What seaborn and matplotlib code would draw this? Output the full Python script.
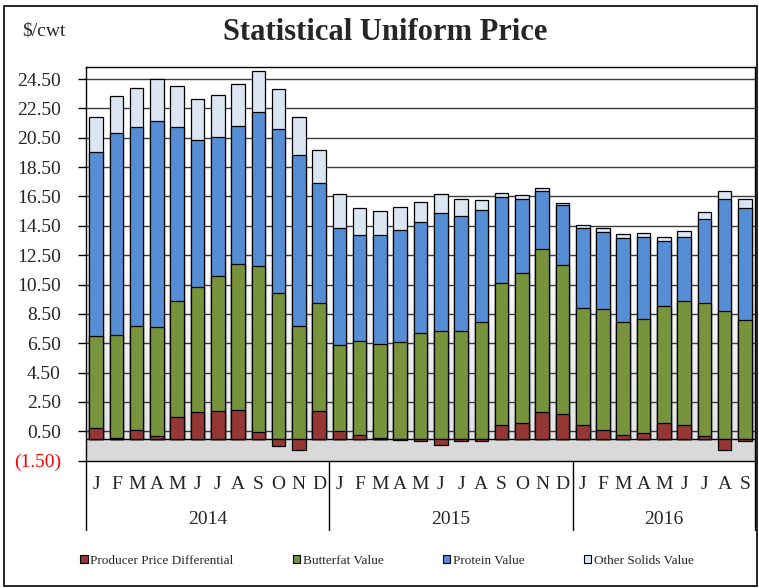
import matplotlib.pyplot as plt
import numpy as np
import pandas as pd
import seaborn as sns
from matplotlib.colors import LinearSegmentedColormap
from matplotlib.patches import Patch, Rectangle

# --- data ($/cwt), Jan 2014 .. Sep 2016 ---
years = ["2014", "2015", "2016"]
months_per_year = [12, 12, 9]
month_letters = ["J", "F", "M", "A", "M", "J", "J", "A", "S", "O", "N", "D"]

producer_price_diff = [
    0.75, 0.03, 0.61, 0.16, 1.45, 1.84, 1.86, 1.93, 0.47, -0.52, -0.75, 1.90,
    0.50, 0.27, 0.02, -0.11, -0.20, -0.45, -0.18, -0.20, 0.93, 1.09, 1.84, 1.66,
    0.89, 0.55, 0.23, 0.36, 1.05, 0.93, 0.20, -0.77, -0.14,
]
butterfat_value = [
    6.22, 7.00, 7.09, 7.41, 7.95, 8.52, 9.21, 9.96, 11.32, 9.95, 7.66, 7.32,
    5.86, 6.41, 6.39, 6.59, 7.18, 7.32, 7.36, 7.91, 9.64, 10.18, 11.11, 10.16,
    8.04, 8.31, 7.68, 7.82, 7.97, 8.43, 9.07, 8.66, 8.05,
]
protein_value = [
    12.53, 13.80, 13.55, 14.07, 11.83, 10.00, 9.52, 9.41, 10.46, 11.16, 11.68, 8.21,
    7.98, 7.18, 7.45, 7.64, 7.55, 8.04, 7.78, 7.66, 5.88, 5.09, 3.94, 4.09,
    5.41, 5.21, 5.75, 5.55, 4.46, 4.41, 5.71, 7.68, 7.68,
]
other_solids_value = [
    2.39, 2.50, 2.66, 2.84, 2.77, 2.82, 2.86, 2.84, 2.80, 2.69, 2.57, 2.27,
    2.30, 1.87, 1.66, 1.52, 1.41, 1.34, 1.16, 0.66, 0.28, 0.21, 0.22, 0.18,
    0.23, 0.27, 0.29, 0.27, 0.29, 0.39, 0.45, 0.52, 0.61,
]

series_names = ["Producer Price Differential", "Butterfat Value",
                "Protein Value", "Other Solids Value"]
series_colors = ["#953735", "#77933C", "#558ED5", "#DCE6F2"]

y_ticks = [-1.5] + [0.5 + 2 * i for i in range(13)]

periods, labels, year_of = [], [], []
for yr, n in zip(years, months_per_year):
    for m in range(n):
        periods.append(f"{yr}-{m + 1:02d}")
        labels.append(month_letters[m])
        year_of.append(yr)

df = pd.DataFrame({
    "period": periods,
    "ppd": producer_price_diff,
    "butterfat": butterfat_value,
    "protein": protein_value,
    "other": other_solids_value,
})
# Excel-style stacking: positive PPD sits under butterfat, negative hangs below 0
base = df["ppd"].clip(lower=0)
df["bf_top"] = base + df["butterfat"]
df["prot_top"] = df["bf_top"] + df["protein"]
df["other_top"] = df["prot_top"] + df["other"]

sns.set_theme(style="white")
plt.rcParams["font.family"] = ["Liberation Serif", "DejaVu Serif"]

fig = plt.figure(figsize=(7.59, 5.88), dpi=100)
ax = fig.add_axes([0.1133, 0.2168, 0.8815, 0.6698])

y_min, y_max = -1.5, 25.35
n = len(df)

# plot-area background: white fading to light gray, solid gray below zero
bg = LinearSegmentedColormap.from_list(
    "bg", [(0, "#e3e3e3"), (0.55, "#ffffff"), (1, "#ffffff")])
ax.imshow(np.linspace(0, 1, 256).reshape(-1, 1), cmap=bg, origin="lower",
          extent=(-0.5, n - 0.5, 0, y_max), aspect="auto", zorder=0)
ax.axhspan(y_min, 0, color="#d9d9d9", zorder=0.1, lw=0)

for col, color in zip(["other_top", "prot_top", "bf_top", "ppd"][::1],
                      series_colors[::-1]):
    sns.barplot(data=df, x="period", y=col, order=periods, color=color,
                saturation=1, width=0.67, edgecolor="black", linewidth=0.9,
                errorbar=None, ax=ax, zorder=2)

ax.axhline(0, color="black", lw=1, zorder=1.5)
ax.set_xlim(-0.5, n - 0.5)
ax.set_ylim(y_min, y_max)
ax.set_yticks(y_ticks)
ax.set_yticklabels(["(1.50)"] + [f"{v:.2f}" for v in y_ticks[1:]])
ax.get_yticklabels()[0].set_color("#ff0000")
for v in y_ticks[1:]:
    ax.axhline(v, color="#3c3c3c", lw=1, zorder=1)

ax.set_xticks(range(n))
ax.set_xticklabels(labels)
ax.set_xlabel("")
ax.set_ylabel("")
ax.tick_params(axis="y", length=6, width=1, color="black", direction="out",
               pad=12, labelsize=14, left=True)
ax.tick_params(axis="x", length=0, pad=11, labelsize=14)
for sp in ax.spines.values():
    sp.set_color("black")
    sp.set_linewidth(1)

# year groups under the month labels
trans = ax.get_xaxis_transform()
start = 0
bounds = [-0.5]
for yr, cnt in zip(years, months_per_year):
    ax.text(start + (cnt - 1) / 2, -0.151, yr, transform=trans, ha="center",
            va="center", fontsize=14)
    start += cnt
    bounds.append(start - 0.5)
for b in bounds:
    ax.plot([b, b], [0, -0.176], transform=trans, color="black", lw=1,
            clip_on=False)

fig.text(44 / 759, 1 - 31 / 588, "$/cwt", ha="center", va="center",
         fontsize=14)
fig.text(385 / 759, 1 - 33 / 588, "Statistical Uniform Price", ha="center",
         va="center", fontsize=22, fontweight="bold")

handles = [Patch(facecolor=c, edgecolor="black", lw=0.8) for c in series_colors]
fig.legend(handles, series_names, loc="center", ncol=4, frameon=False,
           bbox_to_anchor=(387 / 759, 1 - 561 / 588), fontsize=9.5,
           handlelength=0.55, handleheight=0.55, handletextpad=0.2,
           columnspacing=4.5)

fig.patches.append(Rectangle((0.0053, 0.0034), 0.992, 0.9864,
                             transform=fig.transFigure, fill=False,
                             edgecolor="black", lw=1.2))

fig.savefig("out.png", dpi=100, facecolor="white")
